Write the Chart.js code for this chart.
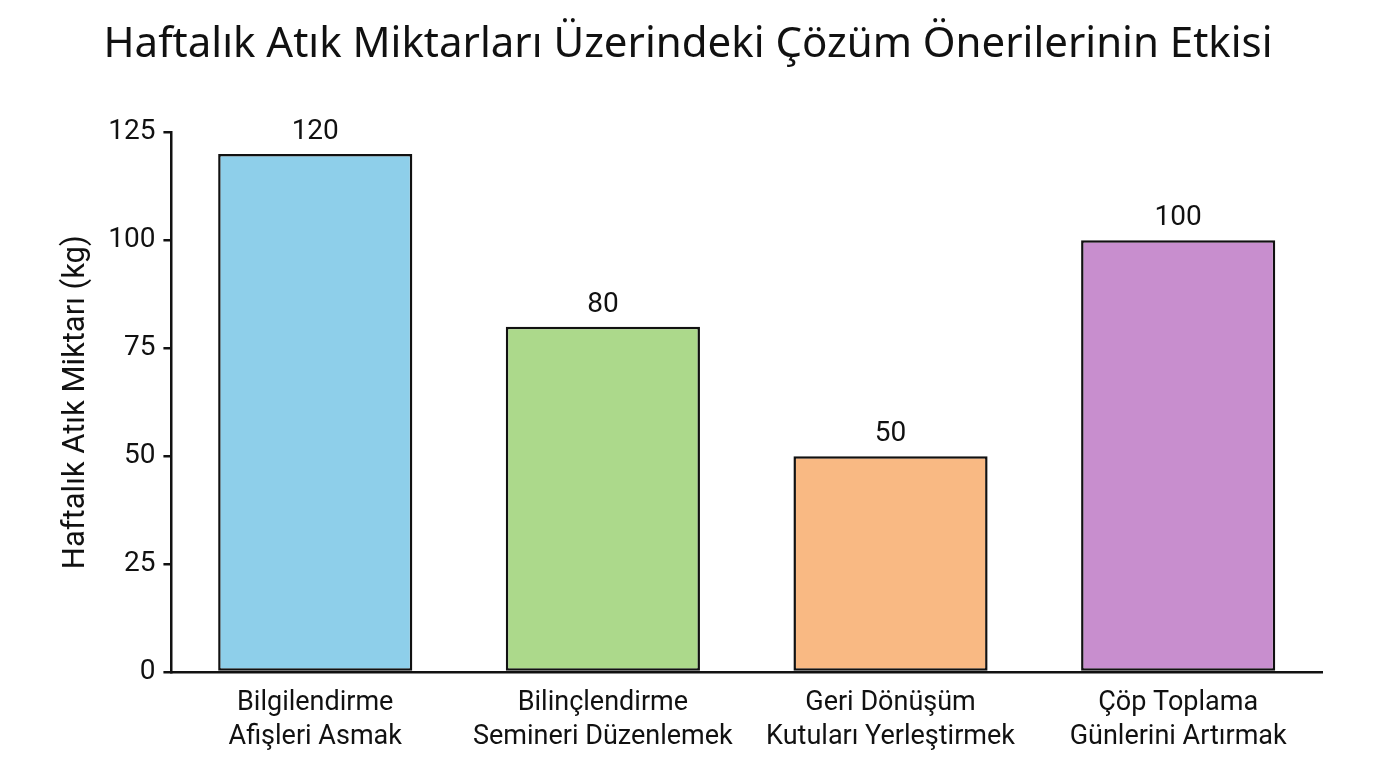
<!DOCTYPE html>
<html>
<head>
<meta charset="utf-8">
<script src="https://cdn.jsdelivr.net/npm/chart.js@4/dist/chart.umd.min.js"></script>
<style>
  html, body { margin: 0; padding: 0; background: #fff; }
  #wrap { width: 1376px; height: 768px; position: relative; }
</style>
</head>
<body>
<div id="wrap"><canvas id="myChart"></canvas></div>
<script>
const categories = [
    ['Bilgilendirme', 'Afişleri Asmak'],
    ['Bilinçlendirme', 'Semineri Düzenlemek'],
    ['Geri Dönüşüm', 'Kutuları Yerleştirmek'],
    ['Çöp Toplama', 'Günlerini Artırmak']
];
const wasteKg = [120, 80, 50, 100];
const barColors = ['#8ecfea', '#acd98b', '#f9b983', '#c88ece'];
const yTicks = [0, 25, 50, 75, 100, 125];

// draws the number above each bar
const valueLabels = {
    id: 'valueLabels',
    afterDatasetsDraw(chart) {
        const ctx = chart.ctx
        const meta = chart.getDatasetMeta(0)
        ctx.save()
        ctx.font = '28px Roboto'
        ctx.fillStyle = '#111'
        ctx.textAlign = 'center'
        ctx.textBaseline = 'bottom'
        meta.data.forEach((bar, i) => {
            ctx.fillText(String(wasteKg[i]), bar.x, bar.y - 8)
        })
        ctx.restore()
    }
}

const config = {
    type: 'bar',
    data: {
        labels: categories,
        datasets: [{
            data: wasteKg,
            backgroundColor: barColors,
            borderColor: '#111',
            borderWidth: 2.5,
            borderSkipped: false,
            categoryPercentage: 0.675,
            barPercentage: 1
        }]
    },
    options: {
        responsive: false,
        animation: false,
        devicePixelRatio: 1,
        layout: { padding: { left: 54, right: 54, top: 0, bottom: 8 } },
        plugins: {
            legend: { display: false },
            tooltip: { enabled: false },
            title: {
                display: true,
                text: 'Haftalık Atık Miktarları Üzerindeki Çözüm Önerilerinin Etkisi',
                color: '#111',
                font: { family: 'Noto Sans', size: 42, weight: 'normal' },
                padding: { top: 20, bottom: 62 }
            }
        },
        scales: {
            x: {
                grid: { display: false },
                border: { display: true, color: '#111', width: 2.5 },
                ticks: {
                    color: '#111',
                    font: { family: 'Roboto', size: 27, lineHeight: 1.26 },
                    padding: 6,
                    maxRotation: 0
                }
            },
            y: {
                min: 0,
                max: 125,
                afterBuildTicks: (axis) => { axis.ticks = yTicks.map(v => ({ value: v })) },
                grid: { drawOnChartArea: false, drawTicks: true, tickLength: 8, color: '#111', lineWidth: 2.5 },
                border: { display: true, color: '#111', width: 2.5 },
                ticks: {
                    color: '#111',
                    font: { family: 'Roboto', size: 28 },
                    padding: 8
                },
                title: {
                    display: true,
                    text: 'Haftalık Atık Miktarı (kg)',
                    color: '#111',
                    font: { family: 'Roboto', size: 31 },
                    padding: { bottom: 5 }
                }
            }
        }
    },
    plugins: [valueLabels]
};

const canvas = document.getElementById('myChart')
canvas.width = 1376
canvas.height = 768
new Chart(canvas, config)
</script>
</body>
</html>
